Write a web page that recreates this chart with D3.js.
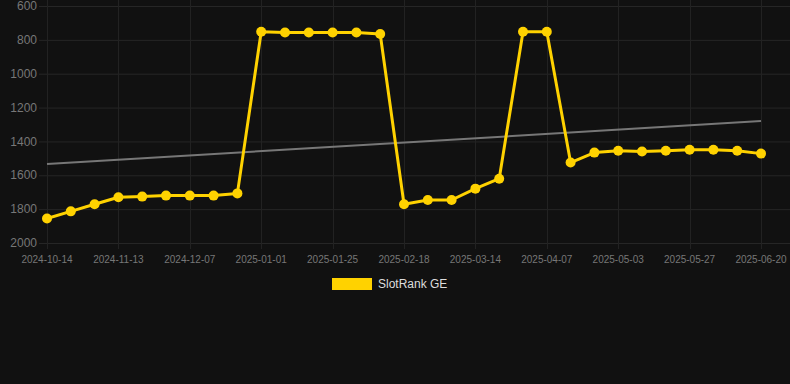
<!DOCTYPE html>
<html lang="en">
<head>
  <meta charset="UTF-8">
  <title>SlotRank GE</title>
  <style>
    body {
      margin: 0;
      background: #111111;
      font-family: 'Liberation Sans', Arial, sans-serif;
    }
    #chart {
      width: 790px;
      height: 384px;
    }
  </style>
</head>
<body>
  <div id="chart"></div>

  <script src="https://d3js.org/d3.v7.min.js"></script>

  <script>
    const dates = [
      '2024-10-14', '2024-10-24', '2024-11-03', '2024-11-13', '2024-11-21', '2024-11-29',
      '2024-12-07', '2024-12-15', '2024-12-23', '2025-01-01', '2025-01-09', '2025-01-17',
      '2025-01-25', '2025-02-02', '2025-02-10', '2025-02-18', '2025-02-26', '2025-03-06',
      '2025-03-14', '2025-03-22', '2025-03-30', '2025-04-07', '2025-04-16', '2025-04-25',
      '2025-05-03', '2025-05-11', '2025-05-19', '2025-05-27', '2025-06-04', '2025-06-12',
      '2025-06-20'
    ];
    const ranks = [
      1855, 1813, 1771, 1730, 1726, 1720, 1720, 1720, 1707,
      752, 757, 757, 757, 757, 765,
      1771, 1746, 1746, 1679, 1620,
      752, 752,
      1525, 1466, 1455, 1460, 1455, 1449, 1449, 1455, 1472
    ];
    // trend line end values (first date, last date)
    const trend = [1533, 1280];
    const yTicks = [600, 800, 1000, 1200, 1400, 1600, 1800, 2000];
    const seriesName = 'SlotRank GE';

    const width = 790;
    const height = 384;
    const margin = { top: 6, right: 0, bottom: 141, left: 39 };

    const svg = d3.select('#chart')
      .append('svg')
      .attr('width', width)
      .attr('height', height);

    const x = d3.scalePoint()
      .domain(dates)
      .range([47, 761]);

    const y = d3.scaleLinear()
      .domain([600, 2000])
      .range([margin.top, height - margin.bottom]);

    // horizontal grid
    svg.append('g')
      .selectAll('line')
      .data(yTicks)
      .join('line')
      .attr('x1', margin.left)
      .attr('x2', width)
      .attr('y1', d => y(d) + 0.5)
      .attr('y2', d => y(d) + 0.5)
      .attr('stroke', '#262626');

    // vertical grid, every third date
    const shown = dates.filter((d, i) => i % 3 === 0);
    svg.append('g')
      .selectAll('line')
      .data(shown)
      .join('line')
      .attr('x1', d => Math.round(x(d)) + 0.5)
      .attr('x2', d => Math.round(x(d)) + 0.5)
      .attr('y1', 0)
      .attr('y2', y(2000) + 6)
      .attr('stroke', '#222222');

    // y labels
    svg.append('g')
      .selectAll('text')
      .data(yTicks)
      .join('text')
      .attr('x', 37)
      .attr('y', d => y(d))
      .attr('dy', '0.35em')
      .attr('text-anchor', 'end')
      .style('font-size', '12px')
      .style('fill', '#777')
      .text(d => d);

    // x labels
    svg.append('g')
      .selectAll('text')
      .data(shown)
      .join('text')
      .attr('x', d => x(d))
      .attr('y', y(2000) + 20)
      .attr('text-anchor', 'middle')
      .style('font-size', '10px')
      .style('fill', '#777')
      .text(d => d);

    // trend
    svg.append('line')
      .attr('x1', x(dates[0]))
      .attr('x2', x(dates[dates.length - 1]))
      .attr('y1', y(trend[0]))
      .attr('y2', y(trend[1]))
      .attr('stroke', '#777')
      .attr('stroke-width', 2);

    const line = d3.line()
      .x((d, i) => x(dates[i]))
      .y(d => y(d));

    svg.append('path')
      .datum(ranks)
      .attr('d', line)
      .attr('fill', 'none')
      .attr('stroke', '#FFD200')
      .attr('stroke-width', 3)
      .attr('stroke-linejoin', 'round');

    svg.append('g')
      .selectAll('circle')
      .data(ranks)
      .join('circle')
      .attr('cx', (d, i) => x(dates[i]))
      .attr('cy', d => y(d))
      .attr('r', 5)
      .attr('fill', '#FFD200');

    // legend
    const legend = svg.append('g')
      .attr('transform', 'translate(332,278)');
    legend.append('rect')
      .attr('width', 40)
      .attr('height', 12)
      .attr('fill', '#FFD200');
    legend.append('text')
      .attr('x', 46)
      .attr('y', 6)
      .attr('dy', '0.35em')
      .style('font-size', '12px')
      .style('fill', '#ddd')
      .text(seriesName);
  </script>
</body>
</html>
